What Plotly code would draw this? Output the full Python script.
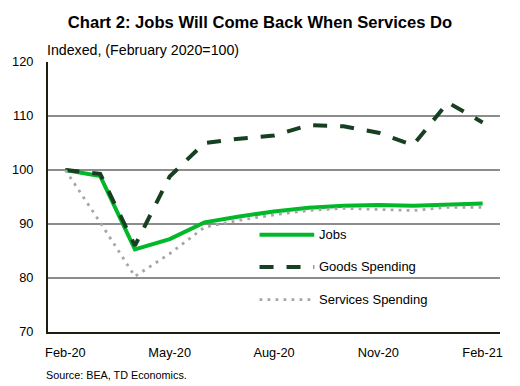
import plotly.graph_objects as go

months = ["Feb-20", "Mar-20", "Apr-20", "May-20", "Jun-20", "Jul-20", "Aug-20",
          "Sep-20", "Oct-20", "Nov-20", "Dec-20", "Jan-21", "Feb-21"]
jobs = [100, 98.9, 85.3, 87.2, 90.3, 91.4, 92.3, 93.0, 93.4, 93.5, 93.4, 93.6, 93.8]
goods = [100, 99.3, 86.0, 98.8, 105.0, 105.8, 106.4, 108.3, 108.1, 106.9, 104.6, 112.5, 108.8]
services = [100, 90.3, 80.3, 84.5, 89.4, 90.7, 91.7, 92.5, 92.9, 92.7, 92.5, 93.1, 93.1]
tick_months = ["Feb-20", "May-20", "Aug-20", "Nov-20", "Feb-21"]

series = [
    ("Jobs", jobs, dict(color="#00b82a", width=4)),
    ("Goods Spending", goods, dict(color="#173f22", width=4, dash="14px,13px")),
    ("Services Spending", services, dict(color="#a6a6a6", width=2.8, dash="2.8px,5.2px")),
]

fig = go.Figure()
for name, vals, line in series:
    fig.add_trace(go.Scatter(x=months, y=vals, mode="lines", name=name, line=line,
                             showlegend=False))

font = "Liberation Sans, Arial, sans-serif"
# manual legend (longer line samples as in reference)
leg_y = [0.360, 0.241, 0.120]
shapes = []
annotations = []
for (name, vals, line), yy in zip(series, leg_y):
    shapes.append(dict(type="line", xref="paper", yref="paper", x0=0.468, x1=0.589,
                       y0=yy, y1=yy, line=line))
    annotations.append(dict(text=name, xref="paper", yref="paper", x=0.596, y=yy,
                            xanchor="left", yanchor="middle", showarrow=False,
                            font=dict(size=13, color="#000", family=font)))

annotations.append(dict(text="Indexed, (February 2020=100)", xref="paper", yref="paper",
                        x=-0.006, y=1.046, xanchor="left", yanchor="middle", showarrow=False,
                        font=dict(size=14.2, color="#000", family=font)))
annotations.append(dict(text="Source: BEA, TD Economics.", xref="paper", yref="paper",
                        x=-0.008, y=-0.158, xanchor="left", yanchor="middle", showarrow=False,
                        font=dict(size=10.8, color="#000", family=font)))

fig.update_layout(
    width=520, height=386,
    margin=dict(l=45, r=20, t=62, b=54),
    paper_bgcolor="white", plot_bgcolor="white",
    font=dict(family=font, size=12.5, color="#000"),
    title=dict(text="<b>Chart 2: Jobs Will Come Back When Services Do</b>",
               x=0.5, xref="container", xanchor="center",
               y=1 - 22 / 386, yref="container", yanchor="middle",
               font=dict(size=16.6, color="#000", family=font)),
    shapes=shapes, annotations=annotations,
    showlegend=False,
)
fig.update_xaxes(type="category", range=[-0.5, 12.5], tickvals=tick_months,
                 ticktext=tick_months, showgrid=False, showline=True,
                 linecolor="#1e1e10", linewidth=2, ticks="outside", ticklen=8,
                 tickcolor="rgba(0,0,0,0)", tickfont=dict(size=12.8, color="#000"))
fig.update_yaxes(range=[70, 120], dtick=10, showgrid=True, gridcolor="#8c8c8c",
                 gridwidth=1.6, showline=True, linecolor="#1e1e10", linewidth=2,
                 zeroline=False, ticks="outside", ticklen=10,
                 tickcolor="rgba(0,0,0,0)", tickfont=dict(size=12.8, color="#000"))

fig.write_html("out.html")
